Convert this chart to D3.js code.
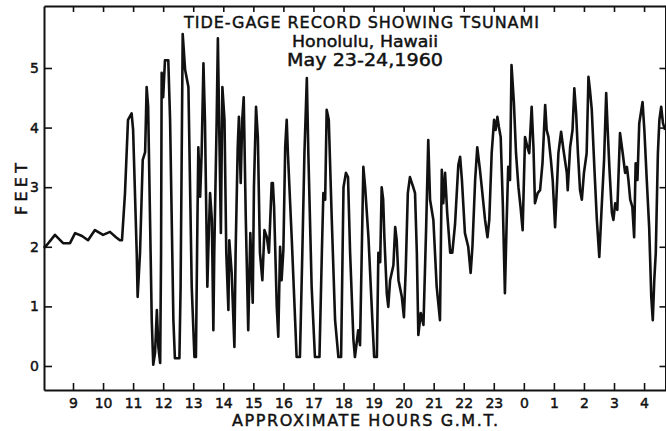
<!DOCTYPE html>
<html>
<head>
<meta charset="utf-8">
<script src="https://cdn.jsdelivr.net/npm/d3@7"></script>
<style>
  body { margin: 0; background: #fff; }
  text { font-family: "DejaVu Sans", sans-serif; fill: #111; stroke: #111; stroke-width: 0.45px; }
</style>
</head>
<body>
<div id="chart"></div>
<script>
// tide gage trace, hours G.M.T. counted on from May 23 (24 = 0h May 24)
const hours = [
  8.03, 8.13, 8.40, 8.67, 8.90, 9.07, 9.30, 9.50, 9.73, 10.00, 10.23, 10.43, 10.56,
  10.63, 10.73, 10.83, 10.95, 11.00, 11.12, 11.15, 11.23, 11.32, 11.40, 11.45, 11.50,
  11.62, 11.67, 11.73, 11.79, 11.84, 11.90, 11.93, 11.95, 12.00, 12.06, 12.17, 12.23,
  12.34, 12.39, 12.54, 12.58, 12.65, 12.73, 12.84, 12.95, 13.04, 13.09, 13.14, 13.17,
  13.23, 13.28, 13.34, 13.39, 13.47, 13.50, 13.56, 13.62, 13.67, 13.70, 13.78, 13.82,
  13.87, 13.92, 13.97, 14.04, 14.10, 14.17, 14.20, 14.28, 14.37, 14.41, 14.48, 14.52,
  14.58, 14.63, 14.68, 14.75, 14.83, 14.90, 14.98, 15.02, 15.09, 15.15, 15.22, 15.30,
  15.37, 15.45, 15.52, 15.61, 15.65, 15.69, 15.78, 15.83, 15.89, 15.94, 16.00, 16.06,
  16.11, 16.15, 16.28, 16.39, 16.44, 16.55, 16.63, 16.70, 16.78, 16.83, 16.94, 17.05,
  17.20, 17.28, 17.33, 17.39, 17.44, 17.51, 17.61, 17.72, 17.83, 17.92, 18.00, 18.08,
  18.15, 18.22, 18.33, 18.38, 18.49, 18.55, 18.66, 18.72, 18.83, 18.96, 19.02, 19.11,
  19.16, 19.22, 19.27, 19.32, 19.36, 19.44, 19.49, 19.55, 19.66, 19.72, 19.77, 19.83,
  19.94, 20.01, 20.07, 20.14, 20.21, 20.32, 20.38, 20.44, 20.49, 20.57, 20.66, 20.75,
  20.82, 20.88, 20.99, 21.10, 21.21, 21.27, 21.32, 21.38, 21.45, 21.55, 21.62, 21.71,
  21.82, 21.88, 21.94, 22.04, 22.15, 22.23, 22.29, 22.38, 22.45, 22.54, 22.60, 22.71,
  22.79, 22.85, 22.93, 23.01, 23.06, 23.12, 23.17, 23.23, 23.30, 23.37, 23.43, 23.48,
  23.54, 23.59, 23.67, 23.74, 23.82, 23.89, 23.96, 24.04, 24.12, 24.18, 24.26, 24.32,
  24.37, 24.46, 24.54, 24.62, 24.71, 24.76, 24.82, 24.90, 24.96, 25.04, 25.15, 25.24,
  25.32, 25.43, 25.46, 25.54, 25.62, 25.68, 25.74, 25.80, 25.87, 25.93, 26.00, 26.09,
  26.15, 26.20, 26.26, 26.35, 26.43, 26.51, 26.59, 26.67, 26.74, 26.79, 26.85, 26.93,
  26.98, 27.04, 27.11, 27.20, 27.29, 27.37, 27.43, 27.48, 27.54, 27.61, 27.67, 27.72,
  27.78, 27.84, 27.95, 28.01, 28.09, 28.17, 28.24, 28.29, 28.34, 28.39, 28.46, 28.51,
  28.57, 28.63, 28.70
];
const feet = [
  1.98, 2.03, 2.20, 2.06, 2.06, 2.23, 2.18, 2.11, 2.28, 2.20, 2.25, 2.16, 2.11,
  2.11, 2.90, 4.13, 4.24, 3.96, 1.90, 1.16, 1.90, 3.46, 3.59, 4.68, 4.35,
  0.77, 0.02, 0.22, 0.94, 0.32, 0.05, 1.90, 4.92, 4.51, 5.13, 5.13, 4.13,
  0.77, 0.13, 0.13, 1.33, 5.57, 4.97, 4.68, 1.33, 0.15, 0.15, 2.45, 3.67,
  2.84, 3.57, 5.08, 4.13, 1.33, 1.90, 2.90, 2.45, 0.60, 1.90, 4.13, 5.50,
  3.84, 2.23, 4.68, 4.13, 1.90, 0.94, 2.11, 1.56, 0.32, 1.90, 3.67, 4.18,
  3.07, 4.13, 4.51, 2.45, 0.60, 2.23, 1.06, 3.00, 4.35, 3.84, 1.90, 1.44,
  2.28, 2.16, 1.90, 3.07, 3.07, 2.67, 0.99, 0.49, 2.00, 1.44, 1.95, 3.67,
  4.13, 3.57, 2.11, 0.77, 0.15, 0.15, 1.90, 3.57, 4.83, 3.57, 1.33, 0.15,
  0.15, 1.90, 2.90, 2.79, 4.30, 4.13, 2.45, 0.77, 0.15, 0.15, 3.00, 3.24,
  3.17, 1.90, 0.44, 0.15, 0.60, 0.35, 3.34, 3.00, 2.16, 0.77, 0.15, 0.15,
  1.90, 1.74, 3.00, 2.79, 2.16, 1.22, 0.99, 1.44, 1.69, 2.33, 2.11, 1.44,
  1.16, 0.82, 1.61, 2.90, 3.17, 3.00, 2.90, 1.90, 0.52, 0.89, 0.69, 2.33,
  3.79, 2.79, 2.45, 1.33, 0.77, 3.29, 2.73, 3.24, 2.57, 1.90, 1.90, 2.37,
  3.37, 3.51, 3.12, 2.23, 2.00, 1.56, 2.00, 3.12, 3.67, 3.29, 3.00, 2.45,
  2.16, 2.45, 3.57, 4.13, 3.96, 4.18, 4.01, 3.84, 2.73, 1.22, 2.45, 3.34,
  3.12, 5.05, 4.41, 3.57, 3.00, 2.67, 2.28, 3.84, 3.67, 3.57, 4.35, 3.67,
  2.73, 2.90, 2.95, 3.40, 4.38, 3.96, 3.84, 3.46, 3.12, 2.33, 3.57, 3.93,
  3.62, 3.24, 2.95, 3.67, 3.96, 4.66, 4.24, 3.57, 2.95, 2.79, 3.24, 3.57,
  4.85, 4.63, 4.30, 3.29, 2.45, 1.83, 2.67, 3.46, 4.58, 3.96, 3.29, 2.57,
  2.45, 2.73, 2.62, 3.91, 3.57, 3.24, 3.34, 3.12, 2.79, 2.67, 2.16, 3.40,
  3.12, 4.07, 4.43, 3.96, 3.12, 2.33, 1.16, 0.77, 1.44, 1.90, 3.57, 4.13,
  4.35, 4.07, 3.96
];
const hourTicks = [9, 10, 11, 12, 13, 14, 15, 16, 17, 18, 19, 20, 21, 22, 23, 24, 25, 26, 27, 28];
const hourLabels = ['9', '10', '11', '12', '13', '14', '15', '16', '17', '18', '19', '20',
  '21', '22', '23', '0', '1', '2', '3', '4'];
const feetTicks = [0, 1, 2, 3, 4, 5];

const width = 666, height = 431;
const margin = {top: 6, right: 0, bottom: 41, left: 44};

const x = d3.scaleLinear().domain([8.035, 28.73]).range([margin.left, width - margin.right]);
const y = d3.scaleLinear().domain([-0.403, 6.04]).range([height - margin.bottom, margin.top]);

const svg = d3.select('#chart').append('svg')
  .attr('width', width)
  .attr('height', height);

// trace
const line = d3.line()
  .x((d, i) => x(hours[i]))
  .y(d => y(d));

svg.append('path')
  .datum(feet)
  .attr('fill', 'none')
  .attr('stroke', '#111')
  .attr('stroke-width', 2.6)
  .attr('stroke-linejoin', 'round')
  .attr('d', line);

// axes: all ticks point inward
const axisB = svg.append('g')
  .attr('transform', `translate(0,${height - margin.bottom})`)
  .call(d3.axisBottom(x).tickValues(hourTicks).tickSize(-7).tickSizeOuter(0)
    .tickPadding(8).tickFormat((d, i) => hourLabels[i]));

const axisT = svg.append('g')
  .attr('transform', `translate(0,${margin.top})`)
  .call(d3.axisTop(x).tickValues(hourTicks).tickSize(-6).tickSizeOuter(0).tickFormat(''));

const axisL = svg.append('g')
  .attr('transform', `translate(${margin.left},0)`)
  .call(d3.axisLeft(y).tickValues(feetTicks).tickSize(-8).tickSizeOuter(0)
    .tickPadding(5).tickFormat(d3.format('d')));

const axisR = svg.append('g')
  .attr('transform', `translate(${width - 0.5},0)`)
  .call(d3.axisRight(y).tickValues(feetTicks).tickSize(-6).tickSizeOuter(0).tickFormat(''));

[axisB, axisT, axisL, axisR].forEach(g => {
  g.selectAll('path.domain').attr('stroke', '#111').attr('stroke-width', 2);
  g.selectAll('.tick line').attr('stroke', '#111').attr('stroke-width', 1.6);
  g.selectAll('.tick text').style('font-family', '"DejaVu Sans", sans-serif')
    .style('font-size', '14px').attr('fill', '#111');
});

// titles
svg.append('text')
  .attr('x', 184).attr('y', 28)
  .attr('textLength', 355).attr('lengthAdjust', 'spacing')
  .style('font-size', '16px')
  .text('TIDE-GAGE RECORD SHOWING TSUNAMI');

svg.append('text')
  .attr('x', 292).attr('y', 46.5)
  .attr('textLength', 146).attr('lengthAdjust', 'spacingAndGlyphs')
  .style('font-size', '16px')
  .text('Honolulu, Hawaii');

svg.append('text')
  .attr('x', 287).attr('y', 66)
  .attr('textLength', 156).attr('lengthAdjust', 'spacingAndGlyphs')
  .style('font-size', '17px')
  .text('May 23-24,1960');

svg.append('text')
  .attr('x', 232).attr('y', 426)
  .attr('textLength', 266).attr('lengthAdjust', 'spacing')
  .style('font-size', '16px')
  .text('APPROXIMATE HOURS G.M.T.');

svg.append('text')
  .attr('transform', 'translate(27,215) rotate(-90)')
  .attr('textLength', 52).attr('lengthAdjust', 'spacing')
  .style('font-size', '16px')
  .text('FEET');
</script>
</body>
</html>
